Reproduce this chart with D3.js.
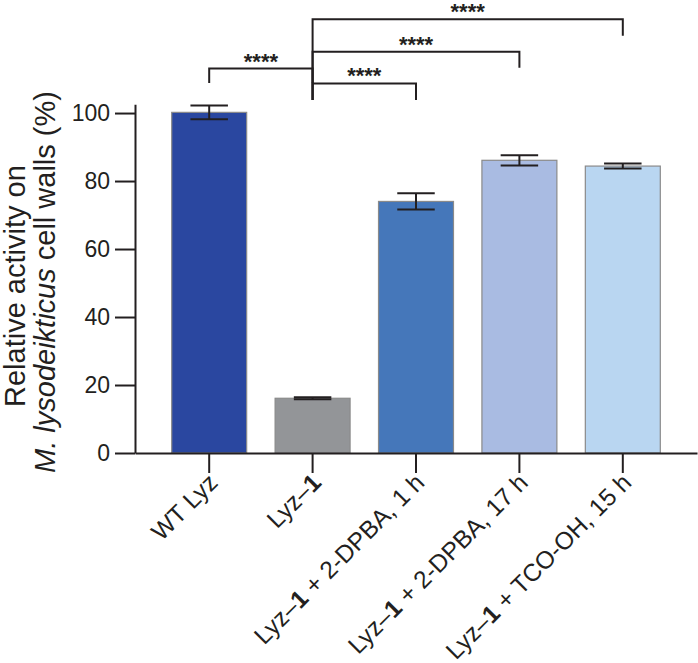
<!DOCTYPE html>
<html>
<head>
<meta charset="utf-8">
<script src="https://cdn.jsdelivr.net/npm/d3@7"></script>
<style>
  html, body { margin: 0; padding: 0; background: #fff; }
  svg { display: block; font-family: "Liberation Sans", Arial, Helvetica, sans-serif; }
</style>
</head>
<body>
<svg id="chart" width="698" height="663"></svg>
<script>
// ---- data ----
const categories = ["WT Lyz", "Lyz–1", "Lyz–1 + 2-DPBA, 1 h", "Lyz–1 + 2-DPBA, 17 h", "Lyz–1 + TCO-OH, 15 h"];
const means = [100.2, 16.1, 74.0, 86.1, 84.4];
const errors = [2.0, 0.3, 2.4, 1.5, 0.75];
const barColors = ["#2a47a0", "#939598", "#4577ba", "#a9bbe2", "#b9d6f1"];
const yTicks = [0, 20, 40, 60, 80, 100];
const yMax = 102.6;
const comparisons = [[0, 1], [1, 2], [1, 3], [1, 4]];
const bracketLevels = [113.1, 108.7, 118.0, 127.6];
const leftLegEnds = [108.8, 103.8, 103.8, 103.8];
const rightLegEnds = [108.8, 103.8, 113.3, 122.7];
const sigLabels = ["****", "****", "****", "****"];
const yTitleLine1 = "Relative activity on";
const yTitleItalic = "M. lysodeikticus";
const yTitleRest = " cell walls (%)";

// ---- layout ----
const svg = d3.select("#chart");
const axisX0 = 135, axisX1 = 697, axisY0 = 453, axisYTop = 104.2;
const ink = "#231f20";

const x = d3.scaleBand().domain(categories).range([axisX0, axisX1])
  .paddingInner(0.275).paddingOuter(0.355);
const y = d3.scaleLinear().domain([0, yMax]).range([axisY0, axisYTop]);

// bars
svg.append("g").selectAll("rect").data(categories).join("rect")
  .attr("x", d => x(d))
  .attr("width", x.bandwidth())
  .attr("y", (d, i) => y(means[i]))
  .attr("height", (d, i) => y(0) - y(means[i]))
  .attr("fill", (d, i) => barColors[i])
  .attr("stroke", "#8a8a8a")
  .attr("stroke-width", 1.2);

// error bars
const capW = x.bandwidth() * 0.5;
const eb = svg.append("g").attr("stroke", ink).attr("stroke-width", 2).attr("fill", "none");
categories.forEach((c, i) => {
  const cx = x(c) + x.bandwidth() / 2;
  const hi = y(means[i] + errors[i]), lo = y(means[i] - errors[i]);
  eb.append("line").attr("x1", cx).attr("x2", cx).attr("y1", hi).attr("y2", lo);
  eb.append("line").attr("x1", cx - capW / 2).attr("x2", cx + capW / 2).attr("y1", hi).attr("y2", hi);
  eb.append("line").attr("x1", cx - capW / 2).attr("x2", cx + capW / 2).attr("y1", lo).attr("y2", lo);
});

// y axis
const yAxis = svg.append("g").attr("transform", `translate(${axisX0},0)`)
  .call(d3.axisLeft(y).tickValues(yTicks).tickSize(20).tickPadding(5).tickSizeOuter(0));
yAxis.selectAll("path, line").attr("stroke", ink).attr("stroke-width", 2);
yAxis.selectAll("text").attr("font-size", 23).attr("fill", ink)
  .attr("font-family", "Liberation Sans, Arial, sans-serif");

// x axis
const xAxis = svg.append("g").attr("transform", `translate(0,${axisY0})`)
  .call(d3.axisBottom(x).tickSize(20).tickSizeOuter(0).tickFormat(""));
xAxis.selectAll("path, line").attr("stroke", ink).attr("stroke-width", 2);

// x labels rotated
const xl = svg.append("g").attr("font-size", 24.5).attr("fill", ink);
categories.forEach(c => {
  const cx = x(c) + x.bandwidth() / 2;
  const t = xl.append("text")
    .attr("text-anchor", "end")
    .attr("transform", `translate(${cx + 10},${axisY0 + 31}) rotate(-45)`);
  const k = c.indexOf("Lyz–1");
  if (k >= 0) {
    t.append("tspan").text(c.slice(0, k) + "Lyz–");
    t.append("tspan").attr("font-weight", "bold").text("1");
    t.append("tspan").text(c.slice(k + 5));
  } else {
    t.text(c);
  }
});

// y title
const yt = svg.append("g").attr("font-size", 29).attr("fill", ink);
yt.append("text").attr("text-anchor", "start")
  .attr("transform", `translate(25,407) rotate(-90)`)
  .text(yTitleLine1);
const t2 = yt.append("text").attr("text-anchor", "middle")
  .attr("transform", `translate(55,282) rotate(-90)`);
t2.append("tspan").attr("font-style", "italic").text(yTitleItalic);
t2.append("tspan").text(yTitleRest);

// significance brackets
const br = svg.append("g");
comparisons.forEach((pair, i) => {
  const xa = x(categories[pair[0]]) + x.bandwidth() / 2;
  const xb = x(categories[pair[1]]) + x.bandwidth() / 2;
  const ly = y(bracketLevels[i]);
  br.append("path")
    .attr("d", `M${xa},${y(leftLegEnds[i])}V${ly}H${xb}V${y(rightLegEnds[i])}`)
    .attr("fill", "none").attr("stroke", ink).attr("stroke-width", 2);
  br.append("text").attr("x", (xa + xb) / 2).attr("y", ly)
    .attr("text-anchor", "middle").attr("font-size", 22).attr("font-weight", "bold")
    .attr("fill", ink)
    .text(sigLabels[i]);
});
</script>
</body>
</html>
